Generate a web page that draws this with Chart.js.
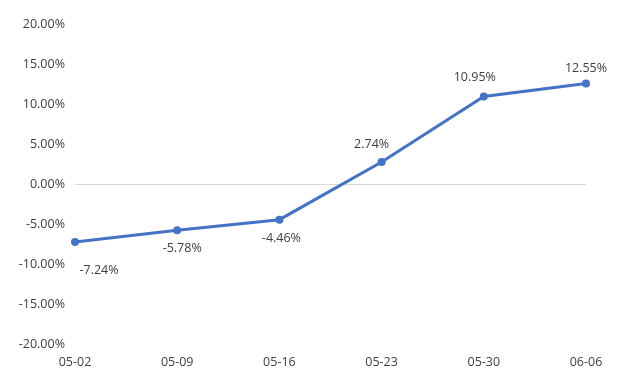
<!DOCTYPE html>
<html>
<head>
<meta charset="utf-8">
<script src="https://cdn.jsdelivr.net/npm/chart.js@4/dist/chart.umd.min.js"></script>
<style>
html,body{margin:0;padding:0;background:#fff;}
#wrap{width:623px;height:384px;position:relative;}
</style>
</head>
<body>
<div id="wrap"><canvas id="c" width="623" height="384"></canvas></div>
<script>
const categories = ['05-02','05-09','05-16','05-23','05-30','06-06'];
const seriesValues = [-7.24, -5.78, -4.46, 2.74, 10.95, 12.55];
const yTicks = [-20, -15, -10, -5, 0, 5, 10, 15, 20];

const FONT = '"Open Sans", "Noto Sans", sans-serif';
const TEXT = '#404040';

// label offsets relative to point (dx, dy)
const labelOffsets = [[24, 29], [5, 18], [2, 19], [-10, -18], [-9, -19], [0, -15]];

const labelPlugin = {
  id: 'pointLabels',
  afterDatasetsDraw(chart) {
    const ctx = chart.ctx;
    const meta = chart.getDatasetMeta(0);
    ctx.save();
    ctx.font = '12.5px ' + FONT;
    ctx.fillStyle = TEXT;
    ctx.textAlign = 'center';
    ctx.textBaseline = 'middle';
    meta.data.forEach((pt, i) => {
      const v = chart.data.datasets[0].data[i];
      const o = labelOffsets[i];
      ctx.fillText(v.toFixed(2) + '%', pt.x + o[0], pt.y + o[1]);
    });
    ctx.restore();
  }
};

new Chart(document.getElementById('c'), {
  type: 'line',
  data: {
    labels: categories,
    datasets: [{
      data: seriesValues,
      borderColor: '#4472C4',
      backgroundColor: '#4472C4',
      borderWidth: 3,
      pointRadius: 4,
      pointBackgroundColor: '#4472C4',
      pointBorderWidth: 0,
      tension: 0,
      fill: false
    }]
  },
  options: {
    responsive: false,
    animation: false,
    devicePixelRatio: 1,
    layout: { padding: { top: 24, right: 37, left: 0, bottom: 0 } },
    plugins: { legend: { display: false }, tooltip: { enabled: false } },
    scales: {
      x: {
        offset: false,
        grid: { display: false, drawTicks: false },
        border: { display: false },
        ticks: { color: TEXT, font: { family: FONT, size: 12.5 }, padding: 11, maxRotation: 0, autoSkip: false },
        afterFit(scale) { scale.height = 40; }
      },
      y: {
        min: -20, max: 20,
        afterBuildTicks(scale) { scale.ticks = yTicks.map(v => ({ value: v })); },
        grid: {
          drawTicks: false,
          color: (c) => (c.tick && c.tick.value === 0) ? '#d9d9d9' : 'rgba(0,0,0,0)',
          lineWidth: 1
        },
        border: { display: false },
        ticks: {
          color: TEXT,
          font: { family: FONT, size: 12.5 },
          padding: 10,
          callback: (v) => Number(v).toFixed(2) + '%'
        },
        afterFit(scale) { scale.width = 75; }
      }
    }
  },
  plugins: [labelPlugin]
});
</script>
</body>
</html>
